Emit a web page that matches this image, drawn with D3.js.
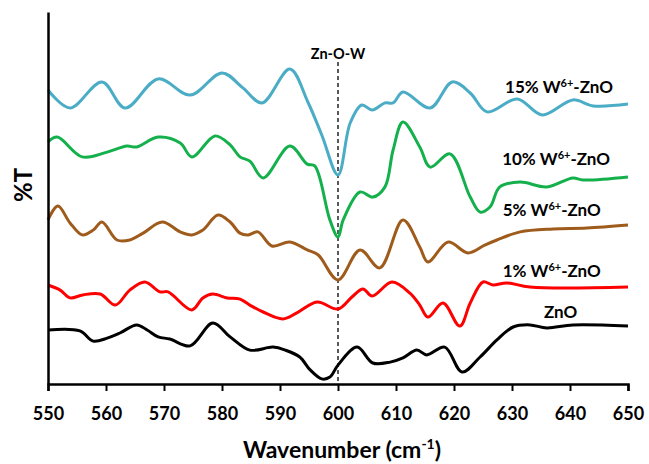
<!DOCTYPE html>
<html>
<head>
<meta charset="utf-8">
<script src="https://cdn.jsdelivr.net/npm/d3@7"></script>
<style>
  html, body { margin: 0; padding: 0; background: #fff; }
  svg { display: block; font-family: Lato, "Open Sans", sans-serif; }
</style>
</head>
<body>
<svg id="chart" width="649" height="464"></svg>
<script>
// ---- data (wavenumber, %T arbitrary offset units) ----
const xTicks = [550, 560, 570, 580, 590, 600, 610, 620, 630, 640, 650];

const wZnO15 = [550.0,553.8,559.3,563.3,569.0,574.5,580.0,583.6,586.9,591.7,594.8,597.2,600.0,602.1,604.1,605.9,608.1,609.5,611.2,615.9,619.7,622.8,625.7,630.9,635.2,640.5,644.0,650.0];
const tZnO15 = [98.0,92.0,100.7,92.0,101.7,96.3,103.7,98.7,93.7,105.0,94.0,83.0,69.7,87.0,93.0,91.3,93.7,93.7,97.3,92.0,100.7,97.0,90.7,95.0,89.7,94.7,92.7,93.3];

const wZnO10 = [550.0,551.6,555.9,560.2,563.6,565.3,569.0,572.8,574.8,578.8,581.4,583.1,584.8,587.1,591.7,594.7,596.0,598.6,600.0,600.9,603.8,606.0,608.1,609.5,611.2,614.1,615.9,619.3,622.8,624.5,626.2,627.9,631.4,636.0,640.5,642.2,650.0];
const tZnO10 = [80.7,82.3,75.7,77.3,79.3,79.0,82.3,80.3,75.7,82.7,79.7,75.7,74.3,68.7,79.3,73.3,72.7,54.7,49.0,54.7,64.0,62.3,65.7,78.0,87.3,79.0,72.3,76.7,62.3,57.3,59.0,65.7,67.3,65.7,68.7,68.0,69.0];

const wZnO5 = [550.0,551.7,553.8,555.9,557.8,559.3,561.9,564.1,566.4,569.7,572.8,574.8,576.7,579.3,581.4,583.1,584.5,586.2,588.6,591.7,594.7,596.6,600.0,603.8,607.2,611.2,614.1,615.5,619.0,622.4,625.3,627.4,631.4,637.1,642.9,650.0];
const tZnO5 = [54.7,59.3,53.7,49.7,51.3,54.0,48.0,48.0,50.3,54.0,50.7,49.7,51.3,56.3,54.0,50.3,49.7,50.7,46.0,47.3,44.7,43.0,34.7,44.7,38.7,54.7,45.7,40.7,47.3,43.7,46.3,48.0,50.7,51.7,52.0,53.0];

const wZnO1 = [550.0,552.1,553.8,556.0,559.0,561.6,564.1,566.7,569.3,570.7,574.8,576.7,578.4,580.9,583.1,584.8,587.1,590.5,592.9,596.4,600.0,602.4,604.3,605.9,609.3,612.4,614.1,615.5,618.1,621.0,622.8,625.0,626.7,629.1,633.1,650.0];
const tZnO1 = [33.0,31.3,28.7,29.7,30.0,26.3,31.3,34.0,30.7,30.7,24.7,28.7,30.0,28.7,28.3,26.3,24.0,21.7,23.7,27.3,25.0,29.0,31.7,29.3,34.0,30.3,26.3,22.3,27.0,19.3,27.0,34.0,33.0,33.7,32.3,32.3];

const wZnO = [550.0,555.5,557.8,560.2,562.4,565.3,567.1,569.0,571.0,574.5,578.4,581.4,584.8,588.8,590.9,593.4,595.2,597.2,598.6,600.0,603.3,606.0,609.0,611.2,613.6,615.3,618.4,621.4,624.5,627.4,630.2,633.1,636.0,640.5,650.0];
const tZnO = [18.0,17.7,14.3,15.3,17.0,19.7,18.0,15.7,15.0,12.7,20.3,15.7,11.3,12.3,11.3,9.0,4.7,1.7,2.3,6.3,12.3,7.0,7.3,8.7,11.3,9.7,12.3,4.0,9.0,14.7,19.0,19.7,18.7,19.7,19.3];

const seriesNames = ["15% W6+-ZnO", "10% W6+-ZnO", "5% W6+-ZnO", "1% W6+-ZnO", "ZnO"];
const seriesW = [wZnO15, wZnO10, wZnO5, wZnO1, wZnO];
const seriesT = [tZnO15, tZnO10, tZnO5, tZnO1, tZnO];
const seriesColors = ["#4BACC6", "#14B04C", "#9E5B1B", "#FF0000", "#000000"];
// label anchor (wavenumber, value) for series text (left edge, baseline)
const labelW = [628.8, 628.3, 628.4, 628.4, 635.5];
const labelT = [97.0, 73.0, 56.0, 35.7, 22.0];
const markerW = 600;
const markerText = "Zn-O-W";

// ---- layout ----
const svg = d3.select("#chart");
const mLeft = 48, mRight = 628, mTop = 12, mBottom = 384;

const x = d3.scaleLinear().domain([550, 650]).range([mLeft, mRight]);
const y = d3.scaleLinear().domain([0, 124]).range([mBottom, mTop]);

// dashed marker line
svg.append("line")
  .attr("x1", x(markerW)).attr("x2", x(markerW))
  .attr("y1", 62).attr("y2", mBottom)
  .attr("stroke", "#000").attr("stroke-width", 1.3)
  .attr("stroke-dasharray", "4,3");

svg.append("text")
  .attr("x", x(markerW)).attr("y", 59)
  .attr("text-anchor", "middle")
  .attr("font-size", 14.5).attr("font-weight", 700)
  .text(markerText);

// lines
const line = d3.line()
  .x(d => x(d[0])).y(d => y(d[1]))
  .curve(d3.curveCatmullRom.alpha(0.5));

seriesNames.forEach((name, i) => {
  const pts = seriesW[i].map((w, j) => [w, seriesT[i][j]]);
  svg.append("path")
    .datum(pts)
    .attr("fill", "none")
    .attr("stroke", seriesColors[i])
    .attr("stroke-width", 3)
    .attr("stroke-linejoin", "round")
    .attr("d", line);
});

// series labels
seriesNames.forEach((name, i) => {
  const t = svg.append("text")
    .attr("x", x(labelW[i])).attr("y", y(labelT[i]))
    .attr("font-size", 17).attr("font-weight", 700)
    .attr("fill", "#000");
  const m = name.match(/^(.*W)(6\+)(-ZnO)$/);
  if (m) {
    t.append("tspan").text(m[1]);
    t.append("tspan").attr("font-size", 11).attr("dy", -6).text(m[2]);
    t.append("tspan").attr("dy", 6).text(m[3]);
  } else {
    t.text(name);
  }
});

// axes
const xAxis = d3.axisBottom(x).tickValues(xTicks).tickFormat(d3.format("d"))
  .tickSizeInner(7).tickSizeOuter(7).tickPadding(16);
const gx = svg.append("g").attr("transform", `translate(0,${mBottom})`).call(xAxis);
gx.select(".domain").attr("stroke", "#000").attr("stroke-width", 2.5);
gx.selectAll(".tick line").attr("stroke", "#000").attr("stroke-width", 2);
gx.selectAll(".tick text").attr("font-size", 18).attr("font-weight", 700)
  .attr("font-family", "Lato, sans-serif").attr("fill", "#000");

const yAxis = d3.axisLeft(y).tickValues([]).tickSizeOuter(0);
const gy = svg.append("g").attr("transform", `translate(${mLeft},0)`).call(yAxis);
gy.select(".domain").attr("stroke", "#000").attr("stroke-width", 2.5);

// axis titles
const xt = svg.append("text")
  .attr("x", (mLeft + mRight) / 2 + 4).attr("y", 458)
  .attr("text-anchor", "middle")
  .attr("font-size", 23).attr("font-weight", 700);
xt.append("tspan").text("Wavenumber (cm");
xt.append("tspan").attr("font-size", 14).attr("dy", -9).text("-1");
xt.append("tspan").attr("dy", 9).text(")");

svg.append("text")
  .attr("transform", "translate(32,185) rotate(-90)")
  .attr("text-anchor", "middle")
  .attr("font-size", 24).attr("font-weight", 700)
  .text("%T");
</script>
</body>
</html>
